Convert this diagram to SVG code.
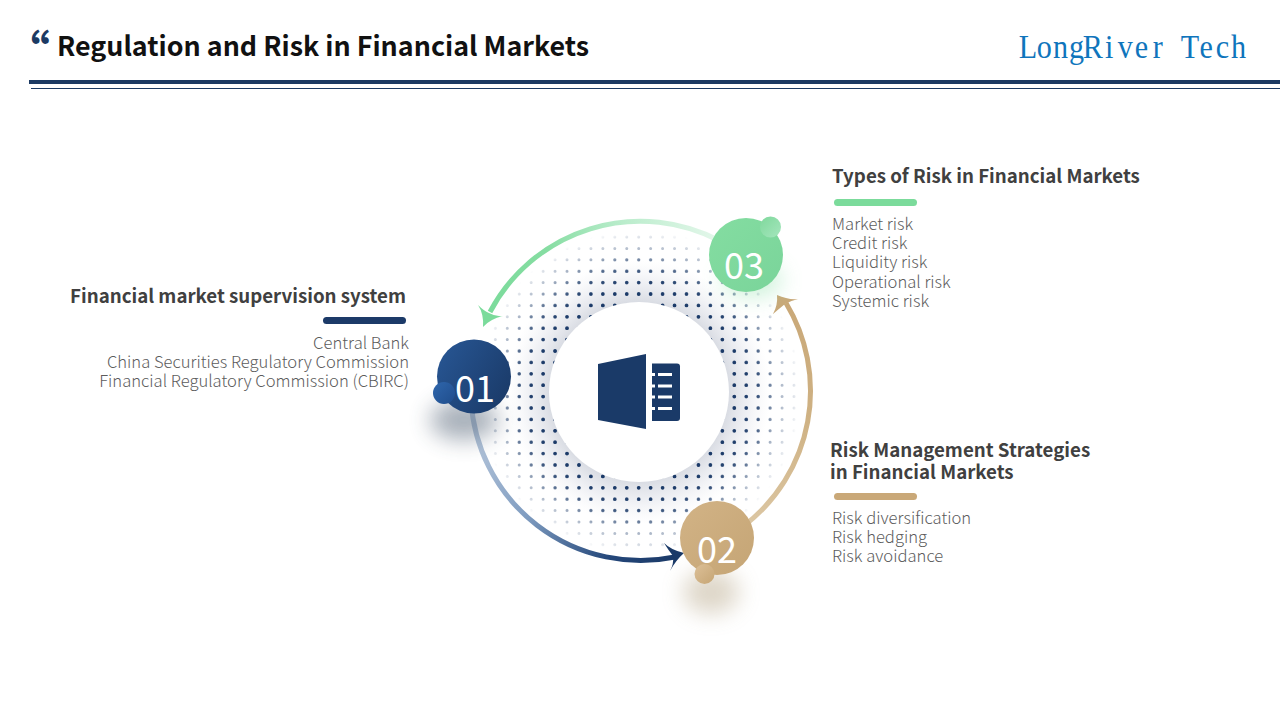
<svg xmlns="http://www.w3.org/2000/svg" width="1280" height="720" viewBox="0 0 1280 720">
<style>
text{font-family:"Noto Sans CJK SC","Noto Sans",sans-serif}
.h{font-size:18.7px;font-weight:700;fill:#404040}
.b{font-size:16.6px;font-weight:300;fill:#5c5c5c}
.r{text-anchor:end}
.n{font-size:36px;font-weight:400;fill:#fff;text-anchor:middle}
.arc{fill:none;stroke-width:5}
.dots{fill:none;stroke:#1b3a68;stroke-linecap:round;stroke-dasharray:0 11.95}
</style>
<defs>
<radialGradient id="fade" gradientUnits="userSpaceOnUse" cx="639" cy="392" r="162">
<stop offset="0.56" stop-color="#fff"/><stop offset="0.64" stop-color="#fff" stop-opacity=".95"/><stop offset="0.8" stop-color="#fff" stop-opacity=".55"/><stop offset="0.93" stop-color="#fff" stop-opacity=".22"/><stop offset="1" stop-color="#fff" stop-opacity="0"/>
</radialGradient>
<radialGradient id="fade2" gradientUnits="userSpaceOnUse" cx="639" cy="392" r="140">
<stop offset="0.65" stop-color="#fff"/><stop offset="0.8" stop-color="#fff" stop-opacity=".7"/><stop offset="1" stop-color="#fff" stop-opacity="0"/>
</radialGradient>
<mask id="dotmask" maskUnits="userSpaceOnUse" x="470" y="220" width="340" height="340"><circle cx="639" cy="392" r="162" fill="url(#fade)"/></mask>
<mask id="dotmask2" maskUnits="userSpaceOnUse" x="470" y="220" width="340" height="340"><circle cx="639" cy="392" r="140" fill="url(#fade2)"/></mask>
<radialGradient id="halo" gradientUnits="userSpaceOnUse" cx="639" cy="392" r="132">
<stop offset="0.68" stop-color="#d9dce3"/><stop offset="0.82" stop-color="#e6e8ee" stop-opacity=".7"/><stop offset="1" stop-color="#f2f3f6" stop-opacity="0"/>
</radialGradient>
<linearGradient id="gG" gradientUnits="userSpaceOnUse" x1="720" y1="241" x2="490" y2="312"><stop offset="0" stop-color="#e4f7eb"/><stop offset=".4" stop-color="#b5ebc8"/><stop offset=".7" stop-color="#86dda2"/><stop offset="1" stop-color="#7bdb9b"/></linearGradient>
<linearGradient id="gB" gradientUnits="userSpaceOnUse" x1="471" y1="400" x2="675" y2="557"><stop offset="0" stop-color="#c4d1e2"/><stop offset=".45" stop-color="#7f9cc0"/><stop offset=".8" stop-color="#24477a"/><stop offset="1" stop-color="#1b3a68"/></linearGradient>
<linearGradient id="gT" gradientUnits="userSpaceOnUse" x1="745" y1="525" x2="786" y2="303"><stop offset="0" stop-color="#dcc7a4"/><stop offset=".5" stop-color="#cfb284"/><stop offset="1" stop-color="#c9a878"/></linearGradient>
<linearGradient id="n1" x1="0" y1="0.2" x2="1" y2="0.8"><stop offset="0" stop-color="#275592"/><stop offset="1" stop-color="#1a3a68"/></linearGradient>
<linearGradient id="s1" x1="0" y1="0" x2="1" y2="1"><stop offset="0" stop-color="#2f66ac"/><stop offset="1" stop-color="#1f4d8c"/></linearGradient>
<linearGradient id="n2" x1="0" y1="0" x2="1" y2="1"><stop offset="0" stop-color="#d2b386"/><stop offset="1" stop-color="#c5a575"/></linearGradient>
<linearGradient id="s2" x1="0" y1="0" x2="1" y2="1"><stop offset="0" stop-color="#dcc098"/><stop offset="1" stop-color="#c6a574"/></linearGradient>
<linearGradient id="n3" x1="0" y1="0" x2="1" y2="1"><stop offset="0" stop-color="#84dda1"/><stop offset="1" stop-color="#7ad49a"/></linearGradient>
<linearGradient id="s3" x1="0" y1="0" x2="1" y2="1"><stop offset="0" stop-color="#7fd89c"/><stop offset="1" stop-color="#a5e6bd"/></linearGradient>
<filter id="blur" x="-80%" y="-80%" width="260%" height="260%"><feGaussianBlur stdDeviation="11"/></filter>
<path id="rows" d="M495.3,237H807M495.3,248.4H807M495.3,259.8H807M495.3,271.2H807M495.3,282.6H807M495.3,294H807M495.3,305.4H807M495.3,316.8H807M495.3,328.2H807M495.3,339.6H807M495.3,351H807M495.3,362.4H807M495.3,373.8H807M495.3,385.2H807M495.3,396.6H807M495.3,408H807M495.3,419.4H807M495.3,430.8H807M495.3,442.2H807M495.3,453.6H807M495.3,465H807M495.3,476.4H807M495.3,487.8H807M495.3,499.2H807M495.3,510.6H807M495.3,522H807M495.3,533.4H807M495.3,544.8H807"/>
</defs>
<rect width="1280" height="720" fill="#fff"/>

<g id="header">
<text x="4" y="69" font-size="46" font-weight="700" fill="#1c3a63">“</text>
<text x="57" y="56" font-size="26.85" font-weight="700" fill="#111">Regulation and Risk in Financial Markets</text>
<text transform="translate(0,58) scale(.9,1)" y="0" x="1142.300 1160.300 1178.300 1196.300 1214.300 1232.300 1250.300 1268.300 1286.300 1304.300 1322.300 1340.300 1358.300 1376.300" text-anchor="middle" font-size="33.5" style="font-family:'Liberation Serif',serif" fill="#0f75bc">LongRiver Tech</text>
<rect x="29" y="80" width="1251" height="4" fill="#1c3a63"/>
<rect x="31" y="88" width="1249" height="1" fill="#1c3a63"/>
</g>

<g id="centre">
<circle cx="639" cy="392" r="132" fill="url(#halo)"/>
<g mask="url(#dotmask)"><use href="#rows" class="dots" stroke-width="3"/></g>
<g mask="url(#dotmask2)"><use href="#rows" class="dots" stroke-width="3.8"/></g>
<circle cx="639" cy="392" r="90" fill="#fff"/>
<g id="icon" fill="#1a3a68">
<path d="M598,364 L646,354 V429 L598,420 Z"/>
<path d="M652,363.5 H677 Q680,363.5 680,366.5 V418 Q680,421 677,421 H652 Z"/>
<path d="M658,373 H672 V376 H658 Z M658,384.5 H672 V387.5 H658 Z M658,395.5 H672 V398.5 H658 Z M658,407 H672 V410 H658 Z M652,373 H655 V376 H652 Z M652,384.5 H655 V387.5 H652 Z M652,395.5 H655 V398.5 H652 Z M652,407 H655 V410 H652 Z" fill="#fff"/>
</g>
</g>

<g id="connectors">
<path class="arc" stroke="url(#gG)" d="M720,241 A170,170 0 0 0 490,312"/>
<path d="M483,327 Q484,314 478,305 Q484,311 489,313 Q496,317 503,316 Q490,319 483,327 Z" fill="#7bdb9b"/>
<path class="arc" stroke="url(#gB)" d="M471,400 A170,170 0 0 0 675,557"/>
<path d="M684,553 Q671,550 664,543 Q669,551 673,556 Q674,564 670,571 Q676,560 684,553 Z" fill="#1b3a68"/>
<path class="arc" stroke="url(#gT)" d="M745,525 A170,170 0 0 0 786,303"/>
<path d="M777,295 Q788,300 798,299 Q790,301 785,304 Q780,308 773,314 Q778,305 777,295 Z" fill="#c9a878"/>
</g>

<g id="node-01">
<ellipse cx="464" cy="420" rx="34" ry="20" fill="#33445c" opacity=".42" filter="url(#blur)"/>
<circle cx="474" cy="376.500" r="37" fill="url(#n1)"/>
<text class="n" x="475" y="402">01</text>
<circle cx="444" cy="393" r="11" fill="url(#s1)"/>
<text class="h r" x="406" y="303">Financial market supervision system</text>
<rect x="323" y="317" width="83" height="7" rx="3.5" fill="#1c3a68"/>
<text class="b r" x="409" y="349">Central Bank</text>
<text class="b r" x="409" y="368">China Securities Regulatory Commission</text>
<text class="b r" x="409" y="387">Financial Regulatory Commission (CBIRC)</text>
</g>

<g id="node-02">
<ellipse cx="711" cy="592" rx="28" ry="22" fill="#a89470" opacity=".38" filter="url(#blur)"/>
<circle cx="717" cy="538" r="37" fill="url(#n2)"/>
<text class="n" x="717" y="563">02</text>
<circle cx="704.500" cy="574" r="10" fill="url(#s2)"/>
<text class="h" x="830" y="457">Risk Management Strategies</text>
<text class="h" x="830" y="479">in Financial Markets</text>
<rect x="834" y="493" width="83" height="7" rx="3.5" fill="#c9a878"/>
<text class="b" x="832" y="524">Risk diversification</text>
<text class="b" x="832" y="543">Risk hedging</text>
<text class="b" x="832" y="562">Risk avoidance</text>
</g>

<g id="node-03">
<ellipse cx="752" cy="280" rx="30" ry="16" fill="#7bdb9b" opacity=".4" filter="url(#blur)"/>
<circle cx="746" cy="255" r="37" fill="url(#n3)"/>
<text class="n" x="744" y="279">03</text>
<circle cx="770.500" cy="227" r="10.500" fill="url(#s3)"/>
<text class="h" x="832" y="183">Types of Risk in Financial Markets</text>
<rect x="834" y="199" width="83" height="7" rx="3.5" fill="#7bdb9b"/>
<text class="b" x="832" y="230">Market risk</text>
<text class="b" x="832" y="249">Credit risk</text>
<text class="b" x="832" y="268">Liquidity risk</text>
<text class="b" x="832" y="288">Operational risk</text>
<text class="b" x="832" y="307">Systemic risk</text>
</g>
</svg>
